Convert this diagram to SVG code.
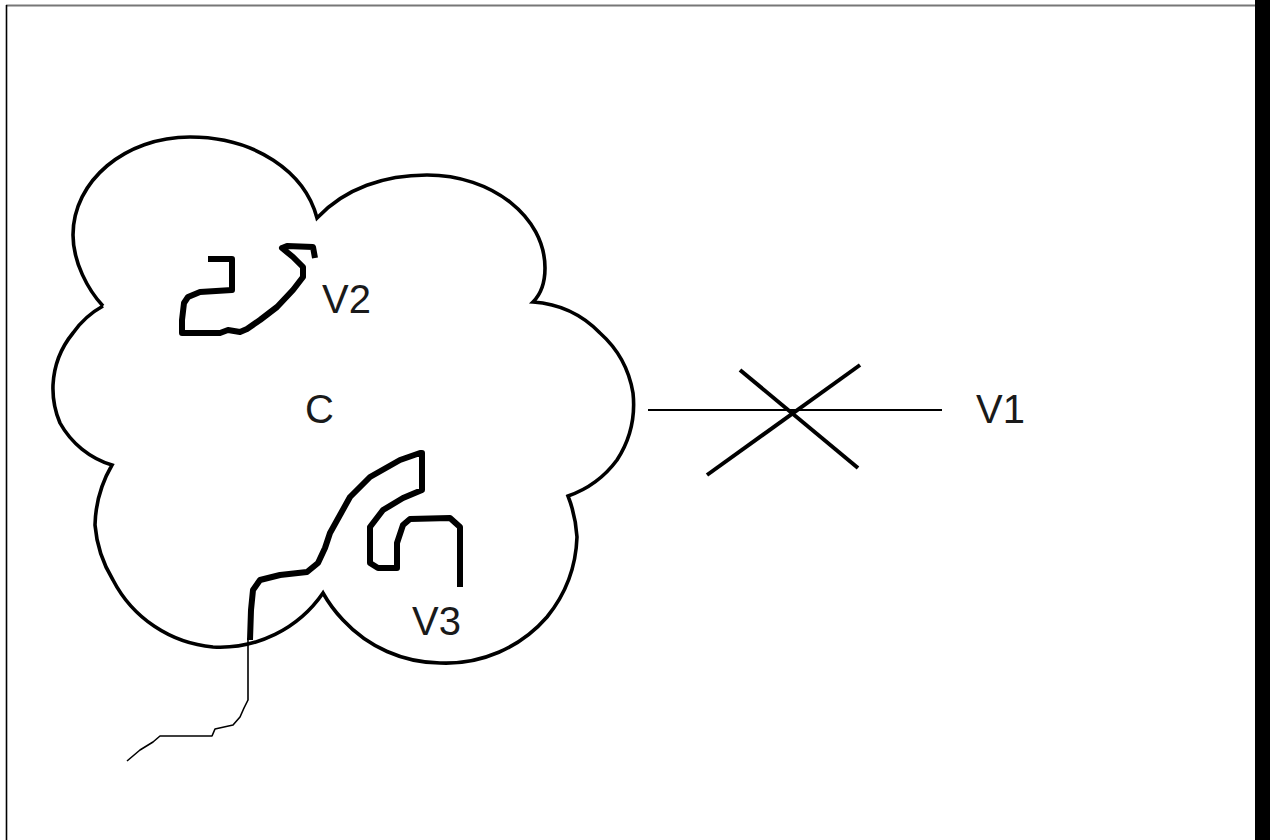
<svg xmlns="http://www.w3.org/2000/svg" width="1270" height="840" viewBox="0 0 1270 840">
  <style>
    .cloud { fill: none; stroke: #000; stroke-width: 3.6; stroke-linejoin: miter; }
    .thick { fill: none; stroke: #000; stroke-width: 6; stroke-linejoin: round; stroke-linecap: butt; }
    .thin { fill: none; stroke: #000; stroke-width: 1.6; stroke-linejoin: round; }
    .wire { fill: none; stroke: #000; stroke-width: 2.2; }
    .cross { fill: none; stroke: #000; stroke-width: 4; }
    .lbl { font-family: "Liberation Sans", Arial, sans-serif; font-size: 40px; fill: #1a1a1a; }
  </style>
  <rect x="0" y="0" width="1270" height="840" fill="#fff"/>
  <g id="frame">
    <line x1="6" y1="5.5" x2="1256" y2="5.5" stroke="#777" stroke-width="2"/>
    <line x1="6.5" y1="5" x2="6.5" y2="840" stroke="#000" stroke-width="1.6"/>
    <rect x="1255" y="0" width="15" height="840" fill="#000"/>
  </g>
  <g id="cloud-C">
    <path class="cloud" d="M103,306
      C88,290 73,262 73,235
      C73,181 125,137 190,137
      C255,137 305,172 317,218
      C345,188 385,175 427,175
      C492,175 545,217 545,268
      C545,284 540,295 533,302
      A103,103 0 0 1 600,333 A103,103 0 0 1 633,393 A103,103 0 0 1 617,460 A103,103 0 0 1 568,496
      A134,134 0 0 1 577,537 A134,134 0 0 1 547,617 A134,134 0 0 1 440,663 A134,134 0 0 1 343,620 A134,134 0 0 1 323,593
      A125,125 0 0 1 213,647 A125,125 0 0 1 113,580 A125,125 0 0 1 95,525 A125,125 0 0 1 112,465
      A89,89 0 0 1 60,423 A89,89 0 0 1 53,385 A89,89 0 0 1 73,333 A89,89 0 0 1 103,306"/>
    <text class="lbl" x="305" y="423">C</text>
  </g>
  <g id="node-V2">
    <polyline class="thick" points="208,259 232,259 232,290 200,292 188,297 184,303 182,320 182,333 220,333 228,330 240,332 247,329 260,320 277,307 293,290 303,277 303,267 293,257 282,248 287,246 313,247 315,258"/>
    <text class="lbl" x="322" y="313">V2</text>
  </g>
  <g id="node-V3">
    <polyline class="thick" points="250,640 251,610 253,590 260,580 280,575 307,572 318,563 325,548 330,533 340,515 350,497 370,477 400,460 420,453 422,453 422,490 403,498 383,510 370,527 370,563 378,568 397,568 397,543 403,525 410,519 450,518 460,527 460,587"/>
    <text class="lbl" x="412" y="635">V3</text>
  </g>
  <g id="node-V1">
    <text class="lbl" x="976" y="423">V1</text>
  </g>
  <g id="connectors">
    <polyline class="thin" points="248,638 248,700 244,708 240,717 233,725 215,729 212,736 160,736 153,742 140,750 127,761"/>
    <line class="wire" x1="648" y1="410" x2="942" y2="410"/>
    <line class="cross" x1="707" y1="475" x2="860" y2="365"/>
    <line class="cross" x1="740" y1="370" x2="858" y2="468"/>
  </g>
</svg>
